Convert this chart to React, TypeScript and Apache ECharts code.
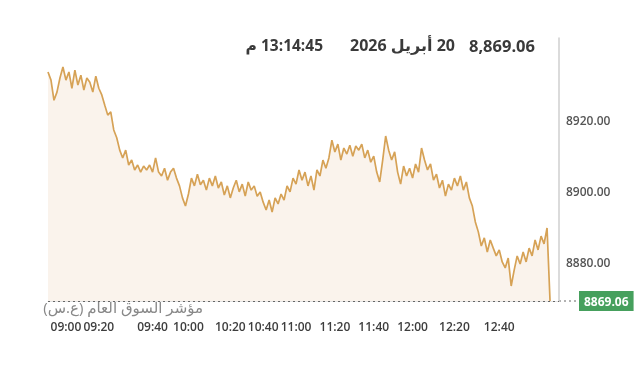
import React, { useEffect, useRef } from 'react';
import * as echarts from 'echarts';

const indexValues = [
  8933.8, 8931.5, 8925.8, 8928.1, 8932.1, 8935.2, 8931.5, 8933.8, 8929.2, 8934.3,
  8930.1, 8932.9, 8928.7, 8932.1, 8930.9, 8928.1, 8932.6, 8929.2, 8927.3, 8924.4,
  8921.6, 8922.5, 8917.4, 8915.2, 8911.7, 8909.5, 8911.7, 8907.5, 8908.9, 8906.1,
  8907.5, 8905.5, 8907.2, 8906.1, 8907.5, 8905.5, 8909.5, 8905.5, 8904.4, 8906.6,
  8903.2, 8905.5, 8906.6, 8903.8, 8901.6, 8898.2, 8895.9, 8899.3, 8903.8, 8901.6,
  8904.9, 8901.9, 8903.2, 8900.4, 8903.8, 8901.6, 8904.4, 8901.0, 8902.7, 8899.0,
  8901.6, 8898.2, 8901.0, 8903.2, 8899.9, 8902.1, 8898.7, 8902.7, 8900.4, 8901.6,
  8898.7, 8899.9, 8897.0, 8894.8, 8897.6, 8894.2, 8898.2, 8896.5, 8899.3, 8897.6,
  8901.6, 8899.9, 8903.8, 8902.1, 8906.1, 8903.2, 8905.5, 8901.6, 8904.4, 8900.4,
  8906.1, 8904.4, 8908.9, 8906.6, 8909.5, 8914.5, 8911.2, 8913.4, 8908.9, 8912.3,
  8910.6, 8913.1, 8910.0, 8912.9, 8911.7, 8913.4, 8909.5, 8911.7, 8908.3, 8910.0,
  8905.5, 8902.7, 8908.9, 8915.7, 8911.7, 8908.9, 8911.2, 8905.5, 8902.1, 8907.2,
  8904.4, 8906.6, 8903.8, 8907.8, 8905.5, 8912.3, 8908.9, 8906.1, 8907.8, 8903.2,
  8904.9, 8901.0, 8903.2, 8898.7, 8902.1, 8900.4, 8903.8, 8901.6, 8904.4, 8900.4,
  8902.7, 8898.2, 8895.9, 8891.4, 8888.6, 8884.6, 8886.9, 8882.9, 8886.3, 8884.0,
  8881.8, 8883.5, 8880.1, 8878.4, 8881.2, 8873.3, 8877.8, 8881.8, 8879.5, 8882.9,
  8880.1, 8884.0, 8881.8, 8886.3, 8883.5, 8887.4, 8885.2, 8889.7, 8869.06,
];

const lastPrice = 8869.06;
const yMax = 8943.4;
const tickLabels = ['09:00', '09:20', '09:40', '10:00', '10:20', '10:40', '11:00', '11:20', '11:40', '12:00', '12:20', '12:40'];
const tickIndex = [6, 17, 35, 47, 61, 72, 83, 96, 109, 122, 136, 151];
const slotCount = 172;
const yTicks = [8880, 8900, 8920];
const headerPrice = '8,869.06';
const headerDate = '20 أبريل 2026';
const headerTime = '13:14:45 م';
const indexName = 'مؤشر السوق العام (ع.س)';
const priceTag = '8869.06';

export default function App() {
  const ref = useRef<HTMLDivElement>(null);
  useEffect(() => {
    const chart = echarts.init(ref.current!, null, { renderer: 'svg' });
    const categories = Array.from({ length: slotCount }, (_, i) => {
      const k = tickIndex.indexOf(i);
      return k >= 0 ? tickLabels[k] : 't' + i;
    });
    const font = "'Open Sans', 'DejaVu Sans', sans-serif";
    chart.setOption({
      animation: false,
      grid: { left: 48, right: 81, top: 38, bottom: 68 },
      xAxis: {
        type: 'category',
        data: categories,
        boundaryGap: false,
        axisLine: { show: true, lineStyle: { color: '#e4e4e4' } },
        axisTick: { show: false },
        splitLine: { show: false },
        axisLabel: {
          interval: (i: number) => tickIndex.includes(i),
          margin: 19,
          color: '#3d3d3d',
          fontSize: 12,
          fontWeight: 600,
          fontFamily: font,
          hideOverlap: false,
        },
      },
      yAxis: {
        type: 'value',
        position: 'right',
        min: lastPrice,
        max: yMax,
        splitLine: { show: false },
        axisLine: { show: true, lineStyle: { color: '#cfcfcf', width: 1.5 } },
        axisTick: { show: false },
        axisLabel: {
          customValues: yTicks,
          formatter: (v: number) => v.toFixed(2),
          margin: 7,
          color: '#555',
          fontSize: 12,
          fontWeight: 600,
          fontFamily: font,
        },
      },
      series: [
        {
          type: 'line',
          data: indexValues,
          symbol: 'none',
          lineStyle: { color: '#d6a256', width: 1.7 },
          areaStyle: { color: '#faf3ec', opacity: 1 },
          markLine: {
            silent: true,
            symbol: 'none',
            lineStyle: { color: '#666', type: [2, 3], width: 1 },
            label: {
              show: true,
              position: 'end',
              distance: 20,
              formatter: priceTag,
              backgroundColor: '#46a05d',
              color: '#fff',
              padding: [4, 5, 4, 5],
              fontSize: 12,
              fontWeight: 'bold',
              fontFamily: font,
            },
            data: [{ yAxis: lastPrice }],
          },
        },
      ],
    });
    const py = chart.convertToPixel({ yAxisIndex: 0 }, lastPrice) as number;
    chart.setOption({
      graphic: [
        {
          type: 'line',
          shape: { x1: 559, y1: py, x2: 579, y2: py },
          style: { stroke: '#666', lineDash: [2, 3], lineWidth: 1 },
          silent: true,
        },
        {
          type: 'text',
          x: 535,
          y: 45,
          style: { text: headerPrice, align: 'right', verticalAlign: 'middle', fontSize: 16.5, fontWeight: 'bold', fill: '#3a3a3a', fontFamily: font },
        },
        {
          type: 'text',
          x: 455,
          y: 45,
          style: { text: '\u202B' + headerDate + '\u202C', align: 'right', verticalAlign: 'middle', fontSize: 16, fontWeight: 'bold', fill: '#3a3a3a', fontFamily: font },
        },
        {
          type: 'text',
          x: 323,
          y: 45,
          style: { text: '\u202B' + headerTime + '\u202C', align: 'right', verticalAlign: 'middle', fontSize: 15.5, fontWeight: 'bold', fill: '#3a3a3a', fontFamily: font },
        },
        {
          type: 'text',
          x: 203,
          y: 307,
          style: { text: '\u202B' + indexName + '\u202C', align: 'right', verticalAlign: 'middle', fontSize: 15, fill: '#888', fontFamily: font },
        },
      ],
    });
    return () => chart.dispose();
  }, []);
  return <div ref={ref} style={{ position: 'fixed', left: 0, top: 0, width: 640, height: 369 }} />;
}
